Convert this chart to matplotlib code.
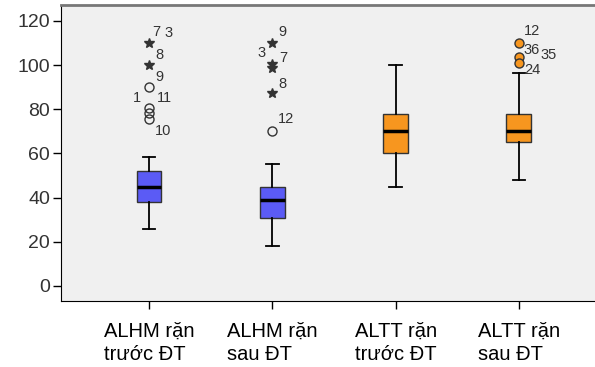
import matplotlib
matplotlib.use('Agg')
import matplotlib.pyplot as plt

plt.rcParams['font.family'] = ['Liberation Sans', 'DejaVu Sans']

# nhóm và số liệu hộp
categories = ['ALHM rặn\ntrước ĐT', 'ALHM rặn\nsau ĐT', 'ALTT rặn\ntrước ĐT', 'ALTT rặn\nsau ĐT']
whis_lo = [26, 18, 45, 48]
q1 = [38, 31, 60, 65]
median = [45, 39, 70, 70]
q3 = [52, 44.7, 78, 77.7]
whis_hi = [58.5, 55, 100, 96.5]
box_colors = ['#5b5bf5', '#5b5bf5', '#f7961f', '#f7961f']

# ngoại lai: (giá trị, nhãn, dx, dy) — dx, dy là độ lệch nhãn tính theo pixel
circles = [
    [(90, [('9', 10, 10)]), (80.4, [('1', -12, 10), ('11', 15, 10)]), (78.1, []), (75.6, [('10', 14, -12)])],
    [(70, [('12', 14, 12)])],
    [],
    [(110, [('12', 13, 12)]), (103.8, [('36', 13, 7), ('35', 30, 2)]), (100.8, [('24', 14, -7)])],
]
stars = [
    [(110, [('7', 7, 11), ('3', 19, 10)]), (100, [('8', 10, 10)])],
    [(110, [('9', 10, 11)]), (100.3, [('3', -11, 11), ('7', 11, 6)]), (98.5, []), (87.5, [('8', 10, 9)])],
    [],
    [],
]

fig = plt.figure(figsize=(5.95, 3.67), dpi=100)
ax = fig.add_axes([61 / 595, 66 / 367, 540 / 595, 296 / 367])
ax.set_facecolor('#f0f0f0')

stats = []
for i in range(4):
    stats.append(dict(whislo=whis_lo[i], q1=q1[i], med=median[i], q3=q3[i],
                      whishi=whis_hi[i], fliers=[]))

positions = [1, 2, 3, 4]
bp = ax.bxp(stats, positions=positions, widths=0.2, capwidths=0.1,
            patch_artist=True, showfliers=False,
            boxprops=dict(edgecolor='#333333', linewidth=1),
            medianprops=dict(color='black', linewidth=2.5),
            whiskerprops=dict(color='black', linewidth=1.3),
            capprops=dict(color='black', linewidth=1.3))
for patch, c in zip(bp['boxes'], box_colors):
    patch.set_facecolor(c)

for i, pos in enumerate(positions):
    fill = 'none' if box_colors[i] == '#5b5bf5' else box_colors[i]
    for val, labels in circles[i]:
        ax.plot(pos, val, marker='o', ms=6.5, mfc=fill, mec='#333333', mew=1, zorder=4)
        for txt, dx, dy in labels:
            ax.annotate(txt, (pos, val), xytext=(dx, dy), textcoords='offset pixels',
                        ha='center', va='center', fontsize=10.5, color='#333333')
    for val, labels in stars[i]:
        ax.plot(pos, val, marker='*', ms=7, color='#333333', zorder=4)
        for txt, dx, dy in labels:
            ax.annotate(txt, (pos, val), xytext=(dx, dy), textcoords='offset pixels',
                        ha='center', va='center', fontsize=10.5, color='#333333')

ax.set_xlim(0.285, 4.667)
ax.set_ylim(-6.8, 127.2)
ax.set_yticks([0, 20, 40, 60, 80, 100, 120])
ax.set_xticks(positions)
ax.set_xticklabels(categories, multialignment='left', linespacing=1.3)
ax.tick_params(axis='both', colors='black', length=6, width=1)
ax.tick_params(axis='x', labelsize=14.5, pad=9)
ax.tick_params(axis='y', labelsize=14, labelcolor='#333333', pad=2)

ax.spines['left'].set_color('black')
ax.spines['bottom'].set_color('black')
ax.spines['top'].set_color('#777777')
ax.spines['top'].set_linewidth(2)
ax.spines['right'].set_visible(False)

fig.savefig('out.png', dpi=100)
